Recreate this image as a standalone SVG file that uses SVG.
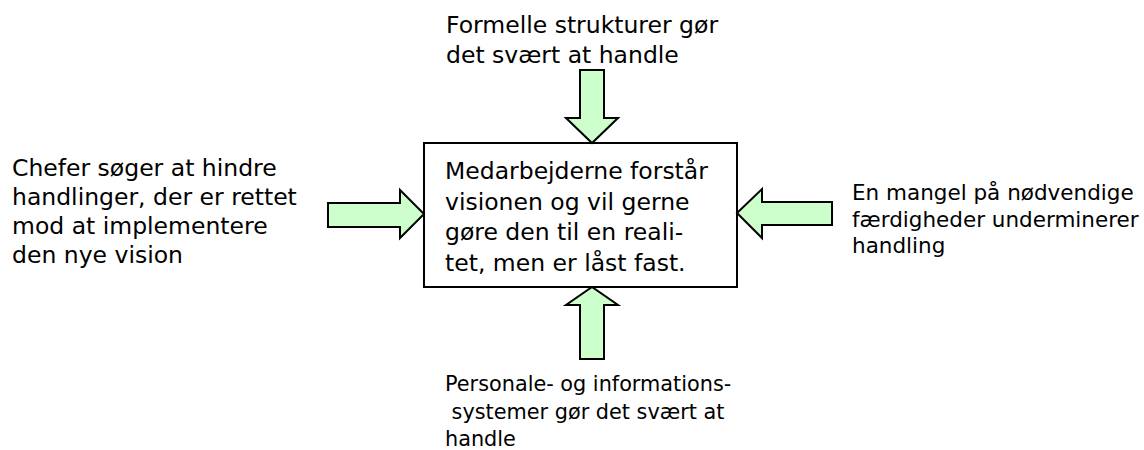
<svg xmlns="http://www.w3.org/2000/svg" width="1144" height="450" viewBox="0 0 1144 450">
<style>
.t{font-family:"DejaVu Sans",Verdana,sans-serif;fill:#000}
.big{font-size:23.5px}
.sm{font-size:21.5px}
.xs{font-size:20.8px}
.arr{fill:#CCFFCC;stroke:#000;stroke-width:2;stroke-linejoin:miter}
</style>
<rect width="1144" height="450" fill="#fff"/>
<g id="center">
<rect x="424" y="143" width="313" height="144" fill="#fff" stroke="#000" stroke-width="2"/>
<text class="t big"><tspan x="445" y="179">Medarbejderne forstår</tspan><tspan x="445" y="210">visionen og vil gerne</tspan><tspan x="445" y="240">gøre den til en reali-</tspan><tspan x="445" y="271">tet, men er låst fast.</tspan></text>
</g>
<g id="top">
<text class="t big"><tspan x="446" y="33">Formelle strukturer gør</tspan><tspan x="446" y="63">det svært at handle</tspan></text>
</g>
<g id="left">
<text class="t big"><tspan x="12" y="176">Chefer søger at hindre</tspan><tspan x="12" y="205">handlinger, der er rettet</tspan><tspan x="12" y="234">mod at implementere</tspan><tspan x="12" y="263">den nye vision</tspan></text>
</g>
<g id="right">
<text class="t sm"><tspan x="852" y="200">En mangel på nødvendige</tspan><tspan x="852" y="227">færdigheder underminerer</tspan><tspan x="852" y="253">handling</tspan></text>
</g>
<g id="bottom">
<text class="t xs" xml:space="preserve"><tspan x="445" y="391">Personale- og informations-</tspan><tspan x="445" y="419"> systemer gør det svært at</tspan><tspan x="445" y="446">handle</tspan></text>
</g>
<g id="connectors">
<polygon class="arr" points="580,70 604,70 604,118 618,118 592,143 566,118 580,118"/>
<polygon class="arr" points="580,359 604,359 604,305 618,305 592,287 566,305 580,305"/>
<polygon class="arr" points="328,203 400,203 400,190 424,214 400,238 400,227 328,227"/>
<polygon class="arr" points="832,202 762,202 762,189 737,213 762,238 762,225 832,225"/>
</g>
</svg>
